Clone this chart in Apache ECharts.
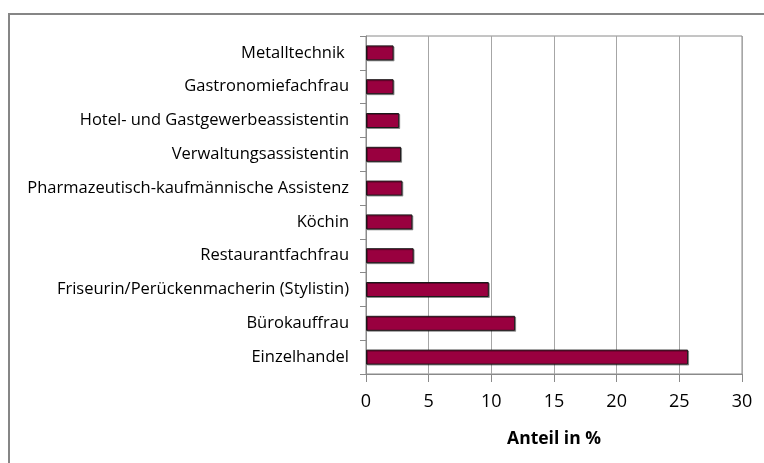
<!DOCTYPE html>
<html><head><meta charset="utf-8">
<script src="https://cdn.jsdelivr.net/npm/echarts@6/dist/echarts.min.js"></script>
<style>html,body{margin:0;padding:0;background:#fff}#c{width:764px;height:463px}</style>
</head><body><div id="c"></div>
<script>
var categories = ["Einzelhandel","Bürokauffrau","Friseurin/Perückenmacherin (Stylistin)","Restaurantfachfrau","Köchin","Pharmazeutisch-kaufmännische Assistenz","Verwaltungsassistentin","Hotel- und Gastgewerbeassistentin","Gastronomiefachfrau","Metalltechnik "];
var values = [25.7, 11.9, 9.8, 3.8, 3.7, 2.9, 2.8, 2.65, 2.2, 2.2];
var xTicks = [0,5,10,15,20,25,30];
var chart = echarts.init(document.getElementById('c'));
var font = 'Open Sans';
chart.setOption({
  animation:false,
  graphic:[{type:'rect',shape:{x:9,y:14,width:800,height:500},style:{fill:'none',stroke:'#868686',lineWidth:2},silent:true}],
  grid:{left:366,top:36,width:376,height:338,containLabel:false,show:true,borderColor:'#8a8a8a',borderWidth:1},
  xAxis:{type:'value',min:xTicks[0],max:xTicks[xTicks.length-1],interval:5,
    name:'Anteil in %',nameLocation:'middle',nameGap:56,
    nameTextStyle:{fontFamily:font,fontWeight:'bold',fontSize:17.5,color:'#000'},
    axisLine:{show:true,lineStyle:{color:'#8a8a8a'}},
    axisTick:{show:true,length:8,lineStyle:{color:'#8a8a8a'}},
    axisLabel:{fontFamily:font,fontSize:18,color:'#000',margin:19},
    splitLine:{show:true,lineStyle:{color:'#a6a6a6',width:1}}},
  yAxis:{type:'category',data:categories,
    axisLine:{show:true,lineStyle:{color:'#8a8a8a'}},
    axisTick:{show:true,length:6,lineStyle:{color:'#8a8a8a'}},
    axisLabel:{fontFamily:font,fontSize:16.5,color:'#000',margin:17}},
  series:[{type:'bar',data:values,barWidth:15,
    itemStyle:{color:'#99003f',borderColor:'#1a1a1a',borderWidth:1,shadowColor:'rgba(0,0,0,0.35)',shadowOffsetX:1,shadowOffsetY:1}}]
});
</script></body></html>
